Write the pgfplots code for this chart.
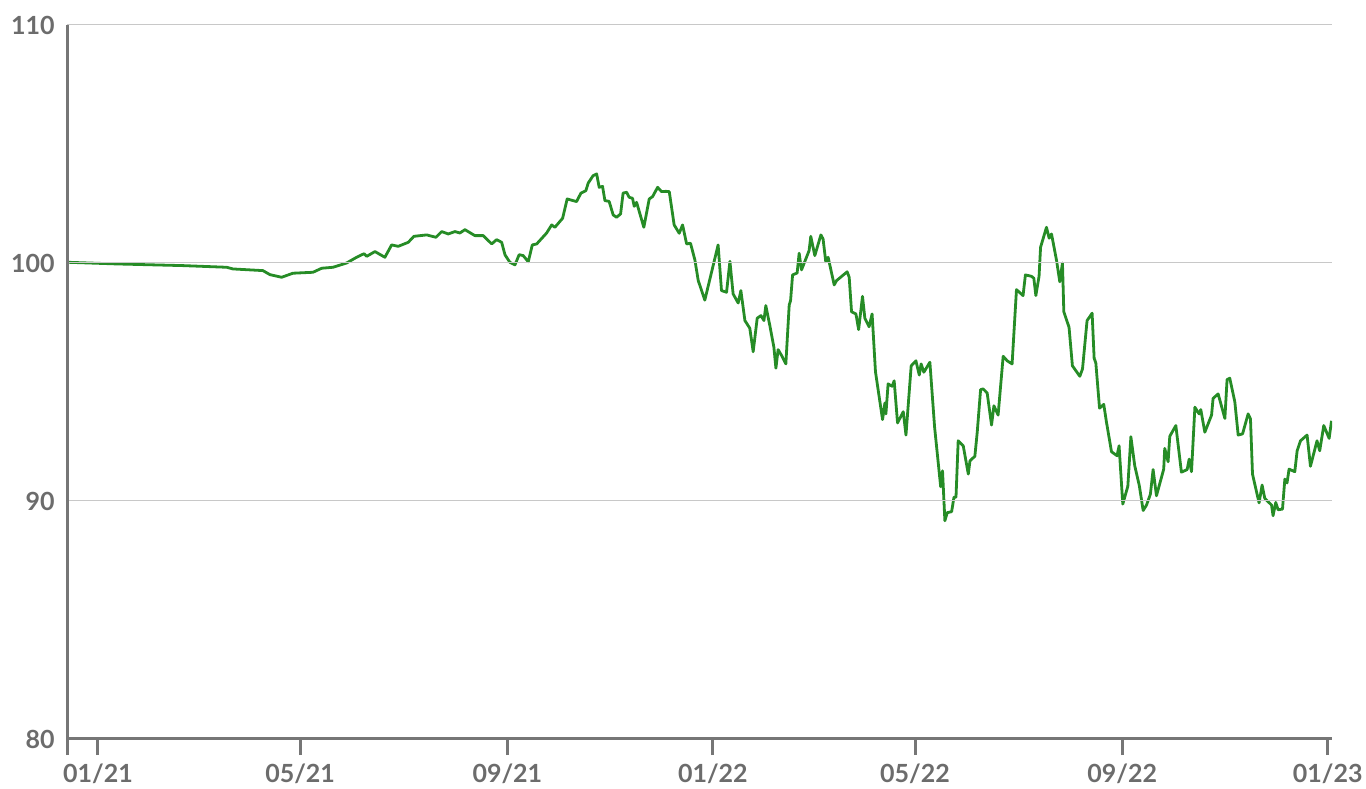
\documentclass[border=0pt]{standalone}
\usepackage{pgfplots}
\pgfplotsset{compat=1.18}
\usepackage{fontspec}
\setmainfont{Lato}
\definecolor{axisgray}{RGB}{118,118,118}
\definecolor{labelgray}{RGB}{108,108,108}
\definecolor{gridgray}{RGB}{200,200,200}
\definecolor{linegreen}{RGB}{38,140,38}
\begin{document}
\begin{tikzpicture}
\begin{axis}[
    scale only axis,
    width=632.5pt, height=357pt,
    xmin=-18.4, xmax=732.5,
    ymin=80, ymax=110,
    axis x line=bottom, axis y line=left,
    axis line style={axisgray, line width=1.5pt, -},
    axis on top,
    xtick={0,120,243,365,485,608,730},
    xticklabels={01/21,05/21,09/21,01/22,05/22,09/22,01/23},
    extra x ticks={-18.4},
    extra x tick labels={},
    ytick={80,90,100,110},
    tick align=outside,
    major tick length=8pt,
    xtick style={axisgray, line width=1.5pt},
    extra x tick style={xtick style={axisgray, line width=1.5pt}},
    ytick style={draw=none},
    ymajorgrids,
    grid style={gridgray, line width=0.5pt},
    /pgf/number format/assume math mode=true,
    ticklabel style={font=\bfseries\fontsize{12.5}{14}\selectfont, text=labelgray},
    xticklabel style={inner sep=0pt, yshift=-4.5pt},
    yticklabel style={inner sep=0pt, xshift=2pt},
]
\addplot[linegreen, line width=1.4pt, line join=round] table {
x y
-18 100.03
11.1 99.96
50.4 99.89
76.4 99.82
80.1 99.75
97.9 99.68
102.1 99.51
109.0 99.40
115.7 99.57
127.6 99.61
132.8 99.78
139.5 99.82
147.6 100.00
153.5 100.24
157.9 100.39
159.5 100.28
164.4 100.48
170.3 100.24
174.3 100.76
178.2 100.70
184.2 100.87
187.5 101.12
195.1 101.18
200.6 101.08
204.0 101.32
207.9 101.22
211.9 101.32
214.8 101.26
217.8 101.40
223.7 101.15
228.7 101.15
233.7 100.80
236.6 100.98
239.6 100.87
241.6 100.34
244.5 100.03
247.5 99.92
250.0 100.35
252.4 100.31
255.4 100.05
257.8 100.76
260.4 100.80
266.3 101.26
269.3 101.60
271.2 101.50
275.8 101.88
278.5 102.69
284.1 102.58
286.6 102.93
289.6 103.04
291.0 103.36
293.9 103.67
296.0 103.74
297.5 103.18
299.5 103.22
300.9 102.62
303.4 102.59
305.8 102.02
307.8 101.92
310.2 102.06
311.7 102.94
313.8 102.97
315.3 102.76
317.3 102.72
318.3 102.38
319.7 102.55
324.0 101.50
327.2 102.69
329.2 102.79
332.2 103.18
334.5 103.00
337.1 103.01
339.1 103.00
342.0 101.60
345.0 101.25
347.0 101.60
349.4 100.80
351.7 100.83
354.3 100.13
356.3 99.26
360.2 98.44
368.1 100.76
370.1 98.84
373.1 98.77
375.1 100.07
377.0 98.70
380.0 98.32
381.6 98.84
384.0 97.58
386.9 97.26
388.9 96.27
391.3 97.68
393.5 97.79
395.3 97.58
396.4 98.21
398.8 97.37
401.2 96.46
402.4 95.58
403.7 96.36
405.8 96.11
408.3 95.76
410.3 98.24
411.1 98.42
412.3 99.50
415.0 99.58
416.2 100.41
417.6 99.71
422.1 100.52
423.1 101.12
425.5 100.31
429.1 101.18
430.4 101.01
432.0 100.05
433.4 100.24
437.0 99.08
438.4 99.26
444.7 99.63
445.9 99.40
447.3 97.95
449.9 97.86
451.5 97.20
453.8 98.60
455.2 97.68
457.7 97.32
459.5 97.86
461.5 95.43
465.7 93.42
467.1 94.12
467.7 93.66
469.0 94.92
471.4 94.82
472.6 95.05
474.6 93.28
478.0 93.75
479.6 92.77
482.7 95.68
485.5 95.89
487.5 95.29
488.6 95.76
490.2 95.41
493.8 95.83
496.6 93.10
500.2 90.60
501.3 91.27
502.7 89.17
504.1 89.51
506.7 89.55
508.1 90.16
509.3 90.16
510.6 92.53
513.6 92.32
516.6 91.13
517.6 91.69
520.5 91.88
521.9 92.89
523.9 94.68
525.4 94.71
527.8 94.54
530.4 93.19
531.8 94.00
534.3 93.61
537.3 96.08
539.7 95.89
542.6 95.76
545.2 98.88
549.1 98.63
550.5 99.50
554.1 99.44
555.5 99.36
556.7 98.63
558.6 99.44
559.5 100.66
563.0 101.50
564.6 101.04
566.0 101.22
569.0 100.10
570.9 99.21
572.5 100.00
573.3 97.95
576.4 97.30
578.4 95.68
582.8 95.24
584.4 95.55
587.1 97.58
590.1 97.89
591.3 96.00
592.3 95.80
594.5 93.90
597.0 94.06
598.6 93.32
601.6 92.07
604.9 91.90
606.1 92.32
608.3 89.87
611.3 90.62
613.1 92.70
615.4 91.48
618.1 90.65
620.4 89.60
622.4 89.83
624.7 90.29
626.3 91.32
628.3 90.22
632.6 91.34
633.2 92.21
635.2 91.65
636.2 92.72
639.8 93.17
643.1 91.21
646.5 91.32
647.7 91.76
649.1 91.23
651.1 93.94
653.6 93.66
654.6 93.84
657.0 92.89
661.0 93.61
661.9 94.31
664.9 94.50
668.9 93.47
670.2 95.10
671.8 95.16
674.8 94.17
676.8 92.77
679.4 92.82
682.7 93.66
684.1 93.45
685.3 91.13
689.2 89.92
691.0 90.67
692.6 90.11
696.6 89.83
697.5 89.38
699.1 89.94
700.5 89.63
703.1 89.66
704.5 90.92
705.8 90.76
707.0 91.34
710.4 91.23
711.8 92.11
713.8 92.53
717.7 92.77
719.7 91.46
723.6 92.53
725.2 92.11
727.6 93.17
730.8 92.63
732.2 93.37
};
\end{axis}
\useasboundingbox ([shift={(-33.5pt,-25pt)}]current axis.south west) rectangle ([shift={(17pt,12.5pt)}]current axis.north east);
\end{tikzpicture}
\end{document}
